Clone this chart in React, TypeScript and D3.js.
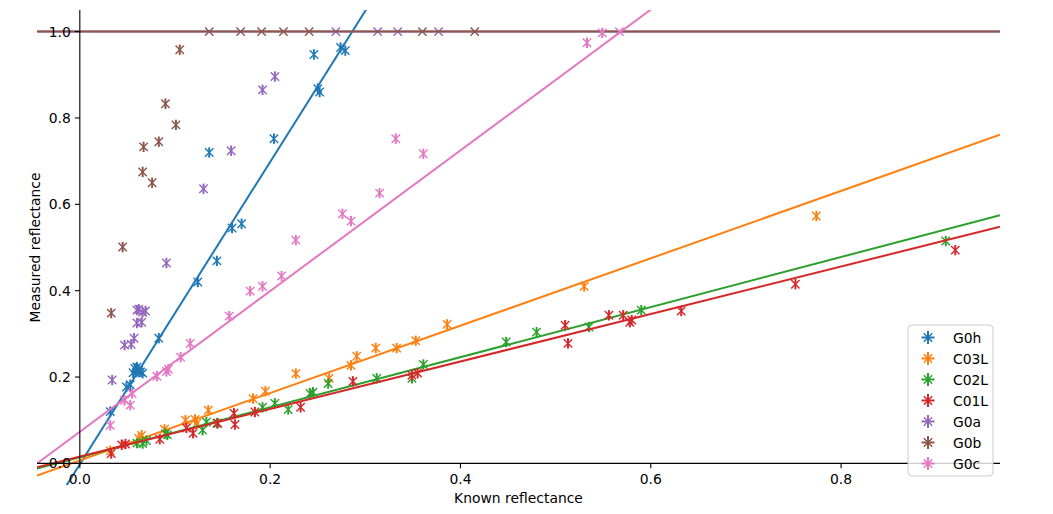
import React from 'react';
import * as d3 from 'd3';

const W = 1053;
const H = 514;

const seriesNames = ['G0h', 'C03L', 'C02L', 'C01L', 'G0a', 'G0b', 'G0c'];
const colors = ['#1f77b4', '#ff7f0e', '#2ca02c', '#d62728', '#9467bd', '#8c564b', '#e377c2'];

const g0hX = [0.032, 0.049, 0.053, 0.056, 0.058, 0.06, 0.062, 0.064, 0.066, 0.083, 0.124, 0.144, 0.16, 0.17, 0.136, 0.204, 0.246, 0.25, 0.252, 0.274, 0.279];
const g0hY = [0.12, 0.177, 0.182, 0.21, 0.22, 0.223, 0.215, 0.212, 0.209, 0.29, 0.42, 0.469, 0.545, 0.555, 0.72, 0.752, 0.947, 0.868, 0.86, 0.963, 0.956];

const c03lX = [0.032, 0.062, 0.065, 0.089, 0.111, 0.121, 0.123, 0.135, 0.182, 0.195, 0.227, 0.262, 0.285, 0.291, 0.311, 0.333, 0.353, 0.386, 0.53, 0.774];
const c03lY = [0.029, 0.058, 0.065, 0.079, 0.1, 0.102, 0.093, 0.123, 0.15, 0.167, 0.208, 0.197, 0.227, 0.248, 0.267, 0.267, 0.284, 0.322, 0.41, 0.573];

const c02lX = [0.06, 0.066, 0.07, 0.09, 0.092, 0.129, 0.133, 0.144, 0.192, 0.205, 0.219, 0.242, 0.245, 0.261, 0.312, 0.349, 0.361, 0.448, 0.48, 0.535, 0.59, 0.91];
const c02lY = [0.047, 0.046, 0.053, 0.069, 0.066, 0.077, 0.096, 0.093, 0.13, 0.139, 0.125, 0.162, 0.165, 0.185, 0.197, 0.197, 0.229, 0.281, 0.304, 0.316, 0.355, 0.515];

const c01lX = [0.033, 0.044, 0.048, 0.084, 0.112, 0.119, 0.145, 0.162, 0.163, 0.184, 0.232, 0.287, 0.349, 0.355, 0.51, 0.513, 0.556, 0.571, 0.578, 0.58, 0.632, 0.752, 0.92];
const c01lY = [0.023, 0.043, 0.045, 0.056, 0.082, 0.07, 0.093, 0.116, 0.09, 0.119, 0.13, 0.19, 0.204, 0.209, 0.32, 0.278, 0.343, 0.343, 0.327, 0.332, 0.353, 0.415, 0.494];

const g0aX = [0.034, 0.047, 0.054, 0.057, 0.06, 0.065, 0.06, 0.062, 0.066, 0.069, 0.091, 0.13, 0.159, 0.192, 0.205, 0.269, 0.313, 0.334, 0.377];
const g0aY = [0.193, 0.274, 0.276, 0.29, 0.325, 0.327, 0.355, 0.357, 0.35, 0.353, 0.464, 0.636, 0.724, 0.865, 0.896, 1, 1, 1, 1];

const g0bX = [0.033, 0.045, 0.066, 0.067, 0.076, 0.083, 0.09, 0.101, 0.105, 0.136, 0.169, 0.191, 0.214, 0.241, 0.36, 0.415];
const g0bY = [0.348, 0.501, 0.675, 0.733, 0.65, 0.745, 0.833, 0.784, 0.958, 1, 1, 1, 1, 1, 1, 1];

const g0cX = [0.032, 0.047, 0.053, 0.055, 0.081, 0.091, 0.093, 0.106, 0.116, 0.157, 0.179, 0.192, 0.212, 0.227, 0.276, 0.285, 0.315, 0.332, 0.361, 0.533, 0.549, 0.567];
const g0cY = [0.088, 0.146, 0.135, 0.162, 0.202, 0.213, 0.218, 0.246, 0.278, 0.341, 0.399, 0.41, 0.434, 0.517, 0.578, 0.561, 0.626, 0.752, 0.717, 0.974, 0.997, 1.0];

const xValues = [g0hX, c03lX, c02lX, c01lX, g0aX, g0bX, g0cX];
const yValues = [g0hY, c03lY, c02lY, c01lY, g0aY, g0bY, g0cY];

// fitted lines: slope, intercept
const fitSlopes = [3.5, 0.78, 0.58, 0.55, 0, 0, 1.63];
const fitIntercepts = [-0.002, 0.007, 0.014, 0.016, 1, 1, 0.073];

const yErr = 0.012;

const xTicks = [0, 0.2, 0.4, 0.6, 0.8];
const yTicks = [0, 0.2, 0.4, 0.6, 0.8, 1.0];

const xDomain = [-0.045, 0.967];
const yDomain = [-0.05, 1.05];

const FONT = 'DejaVu Sans, sans-serif';
const FS = 13.9;

function XMark({ cx, cy, color, r = 4.2 }: { cx: number; cy: number; color: string; r?: number }) {
  return (
    <path
      d={`M${cx - r},${cy - r}L${cx + r},${cy + r}M${cx - r},${cy + r}L${cx + r},${cy - r}`}
      stroke={color}
      strokeWidth={1.4}
      fill="none"
    />
  );
}

export default function App() {
  const left = 37, right = 1000, top = 10, bottom = 485;
  const x = d3.scaleLinear().domain(xDomain).range([left, right]);
  const y = d3.scaleLinear().domain(yDomain).range([bottom, top]);
  const x0 = x(0);
  const y0 = y(0);

  const line = d3.line<[number, number]>().x((d) => x(d[0])).y((d) => y(d[1]));

  const legX = 908, legY = 325, legW = 85, legH = 151;

  return (
    <svg
      width={W}
      height={H}
      style={{ position: 'absolute', left: 0, top: 0, display: 'block', background: '#fff' }}
      fontFamily={FONT}
    >
      <defs>
        <clipPath id="plotclip">
          <rect x={left} y={top} width={right - left} height={bottom - top} />
        </clipPath>
      </defs>
      <rect x={0} y={0} width={W} height={H} fill="#fff" />

      <g clipPath="url(#plotclip)">
        {seriesNames.map((name, si) => {
          const c = colors[si];
          const xs = xValues[si];
          const ys = yValues[si];
          const pts: [number, number][] = [
            [xDomain[0], fitIntercepts[si] + fitSlopes[si] * xDomain[0]],
            [xDomain[1], fitIntercepts[si] + fitSlopes[si] * xDomain[1]],
          ];
          return (
            <g key={name}>
              {xs.map((xv, i) => {
                const yv = ys[i];
                const e = yv >= 1 ? 0 : yErr;
                return (
                  <g key={i}>
                    {e > 0 && (
                      <line x1={x(xv)} x2={x(xv)} y1={y(yv - e)} y2={y(yv + e)} stroke={c} strokeWidth={2} />
                    )}
                    <XMark cx={x(xv)} cy={y(yv)} color={c} />
                  </g>
                );
              })}
              <path d={line(pts) || ''} stroke={c} strokeWidth={2} fill="none" />
            </g>
          );
        })}
      </g>

      {/* spines */}
      <line x1={left} x2={right} y1={y0} y2={y0} stroke="#000" strokeWidth={1.1} />
      <line x1={x0} x2={x0} y1={top} y2={y0} stroke="#000" strokeWidth={1.1} />

      {/* x ticks */}
      {xTicks.map((t) => (
        <g key={'x' + t}>
          <line x1={x(t)} x2={x(t)} y1={y0} y2={y0 + 4.9} stroke="#000" strokeWidth={1.1} />
          <text x={x(t)} y={y0 + 21} fontSize={FS} textAnchor="middle" fill="#000">
            {t.toFixed(1)}
          </text>
        </g>
      ))}
      {/* y ticks */}
      {yTicks.map((t) => (
        <g key={'y' + t}>
          <line x1={x0 - 4.9} x2={x0} y1={y(t)} y2={y(t)} stroke="#000" strokeWidth={1.1} />
          <text x={x0 - 9} y={y(t) + 5} fontSize={FS} textAnchor="end" fill="#000">
            {t.toFixed(1)}
          </text>
        </g>
      ))}

      <text x={(left + right) / 2} y={503} fontSize={FS} textAnchor="middle" fill="#000">
        Known reflectance
      </text>
      <text
        transform={`translate(40, ${(top + bottom) / 2}) rotate(-90)`}
        fontSize={FS}
        textAnchor="middle"
        fill="#000"
      >
        Measured reflectance
      </text>

      {/* legend */}
      <g>
        <rect
          x={legX}
          y={legY}
          width={legW}
          height={legH}
          rx={4}
          fill="#fff"
          fillOpacity={0.8}
          stroke="#cccccc"
          strokeWidth={1}
        />
        {seriesNames.map((name, i) => {
          const cy = legY + 12.5 + i * 21;
          const cx = 928;
          const c = colors[i];
          return (
            <g key={'leg' + name}>
              <line x1={cx - 6.5} x2={cx + 6.5} y1={cy} y2={cy} stroke={c} strokeWidth={2} />
              <line x1={cx} x2={cx} y1={cy - 6.5} y2={cy + 6.5} stroke={c} strokeWidth={2} />
              <XMark cx={cx} cy={cy} color={c} />
              <text x={953} y={cy + 5} fontSize={FS} fill="#000">
                {name}
              </text>
            </g>
          );
        })}
      </g>
    </svg>
  );
}
